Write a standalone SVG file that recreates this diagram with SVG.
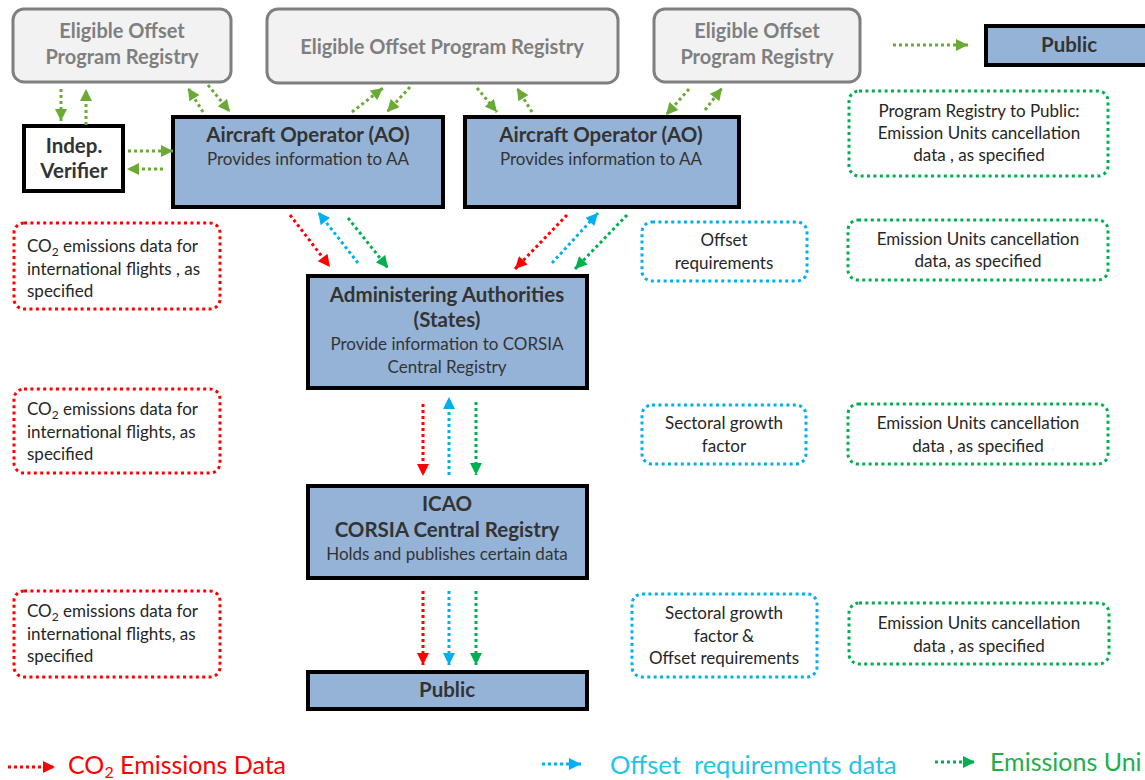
<svg xmlns="http://www.w3.org/2000/svg" width="1145" height="780" viewBox="0 0 1145 780">
<style>
text{font-family:Lato,"Open Sans",sans-serif;}
.reg{fill:#f2f2f2;stroke:#7f7f7f;stroke-width:3}
.regt{fill:#7f7f7f;font-weight:bold;font-size:20px;text-anchor:middle}
.blue{fill:#95b3d7;stroke:#000;stroke-width:4}
.bt{fill:#333;font-weight:bold;font-size:20.5px;text-anchor:middle}
.st{fill:#333;font-size:17px;text-anchor:middle}
.note{fill:none;stroke-width:3;stroke-dasharray:3 3.4}
.nr{stroke:#ff0000}.nb{stroke:#00b0f0}.ng{stroke:#00b050}
.nt{fill:#262626;font-size:17px}
.c{fill:none;stroke-width:3;stroke-dasharray:3 3}
.cr{stroke:#ff0000;marker-end:url(#ar)}
.cb{stroke:#00b0f0;marker-end:url(#ab)}
.cg{stroke:#00b050;marker-end:url(#ag)}
.co{stroke:#6aaa35;marker-end:url(#ao)}
</style>
<defs>
<marker id="ar" viewBox="0 0 10 10" refX="10" refY="5" markerWidth="13" markerHeight="12" markerUnits="userSpaceOnUse" orient="auto"><path d="M0,0L10,5L0,10z" fill="#ff0000"/></marker>
<marker id="ab" viewBox="0 0 10 10" refX="10" refY="5" markerWidth="13" markerHeight="12" markerUnits="userSpaceOnUse" orient="auto"><path d="M0,0L10,5L0,10z" fill="#00b0f0"/></marker>
<marker id="ag" viewBox="0 0 10 10" refX="10" refY="5" markerWidth="13" markerHeight="12" markerUnits="userSpaceOnUse" orient="auto"><path d="M0,0L10,5L0,10z" fill="#00b050"/></marker>
<marker id="ao" viewBox="0 0 10 10" refX="10" refY="5" markerWidth="13" markerHeight="12" markerUnits="userSpaceOnUse" orient="auto"><path d="M0,0L10,5L0,10z" fill="#6aaa35"/></marker>
</defs>
<rect width="1145" height="780" fill="#fff"/>

<g id="eopr1"><rect class="reg" x="13" y="9" width="218" height="73" rx="11"/><text class="regt" x="122" y="38">Eligible Offset</text><text class="regt" x="122" y="64">Program Registry</text></g>
<g id="eopr2"><rect class="reg" x="267" y="9" width="351" height="74" rx="11"/><text class="regt" x="442" y="54">Eligible Offset Program Registry</text></g>
<g id="eopr3"><rect class="reg" x="654" y="9" width="206" height="73" rx="11"/><text class="regt" x="757" y="38">Eligible Offset</text><text class="regt" x="757" y="64">Program Registry</text></g>
<g id="public-top"><rect class="blue" x="986" y="26" width="170" height="39" stroke-width="3"/><text class="bt" x="1069" y="52">Public</text></g>
<g id="note-pr-public"><rect class="note ng" x="849" y="91" width="259" height="85" rx="10"/><text class="nt" x="979" y="117" text-anchor="middle">Program Registry to Public:</text><text class="nt" x="979" y="139" text-anchor="middle">Emission Units cancellation</text><text class="nt" x="979" y="161" text-anchor="middle">data , as specified</text></g>
<g id="verifier"><rect x="24" y="126" width="99" height="65" fill="#fff" stroke="#000" stroke-width="4"/><text class="bt" x="74" y="153" fill="#262626">Indep.</text><text class="bt" x="74" y="178" fill="#262626">Verifier</text></g>
<g id="ao1"><rect class="blue" x="173" y="117" width="270" height="90"/><text class="bt" x="308" y="142">Aircraft Operator (AO)</text><text class="st" x="308" y="165">Provides information to AA</text></g>
<g id="ao2"><rect class="blue" x="465" y="117" width="274" height="90"/><text class="bt" x="601" y="142">Aircraft Operator (AO)</text><text class="st" x="601" y="165">Provides information to AA</text></g>
<g id="aa"><rect class="blue" x="308" y="276" width="279" height="112"/><text class="bt" x="447" y="302">Administering Authorities</text><text class="bt" x="447" y="327">(States)</text><text class="st" x="447" y="350">Provide information to CORSIA</text><text class="st" x="447" y="373">Central Registry</text></g>
<g id="icao"><rect class="blue" x="308" y="486" width="279" height="92"/><text class="bt" x="447" y="511">ICAO</text><text class="bt" x="447" y="537">CORSIA Central Registry</text><text class="st" x="447" y="560">Holds and publishes certain data</text></g>
<g id="public-bottom"><rect class="blue" x="308" y="672" width="279" height="37"/><text class="bt" x="447" y="697">Public</text></g>

<g id="note-co2-1"><rect class="note nr" x="14" y="223" width="206" height="86" rx="10"/><text class="nt" x="27" y="252">CO<tspan font-size="12" dy="4">2</tspan><tspan dy="-4"> emissions data for</tspan></text><text class="nt" x="27" y="275">international flights , as</text><text class="nt" x="27" y="297">specified</text></g>
<g id="note-co2-2"><rect class="note nr" x="14" y="389" width="206" height="84" rx="10"/><text class="nt" x="27" y="415">CO<tspan font-size="12" dy="4">2</tspan><tspan dy="-4"> emissions data for</tspan></text><text class="nt" x="27" y="438">international flights, as</text><text class="nt" x="27" y="460">specified</text></g>
<g id="note-co2-3"><rect class="note nr" x="14" y="591" width="206" height="86" rx="10"/><text class="nt" x="27" y="617">CO<tspan font-size="12" dy="4">2</tspan><tspan dy="-4"> emissions data for</tspan></text><text class="nt" x="27" y="640">international flights, as</text><text class="nt" x="27" y="662">specified</text></g>

<g id="note-offset"><rect class="note nb" x="642" y="222" width="165" height="59" rx="10"/><text class="nt" x="724" y="246" text-anchor="middle">Offset</text><text class="nt" x="724" y="269" text-anchor="middle">requirements</text></g>
<g id="note-sgf"><rect class="note nb" x="642" y="405" width="164" height="59" rx="10"/><text class="nt" x="724" y="429" text-anchor="middle">Sectoral growth</text><text class="nt" x="724" y="452" text-anchor="middle">factor</text></g>
<g id="note-sgf-offset"><rect class="note nb" x="632" y="594" width="185" height="83" rx="10"/><text class="nt" x="724" y="619" text-anchor="middle">Sectoral growth</text><text class="nt" x="724" y="642" text-anchor="middle">factor &amp;</text><text class="nt" x="724" y="664" text-anchor="middle">Offset requirements</text></g>

<g id="note-eu-1"><rect class="note ng" x="848" y="220" width="260" height="60" rx="10"/><text class="nt" x="978" y="245" text-anchor="middle">Emission Units cancellation</text><text class="nt" x="978" y="267" text-anchor="middle">data, as specified</text></g>
<g id="note-eu-2"><rect class="note ng" x="848" y="404" width="260" height="60" rx="10"/><text class="nt" x="978" y="429" text-anchor="middle">Emission Units cancellation</text><text class="nt" x="978" y="452" text-anchor="middle">data , as specified</text></g>
<g id="note-eu-3"><rect class="note ng" x="849" y="603" width="260" height="61" rx="10"/><text class="nt" x="979" y="629" text-anchor="middle">Emission Units cancellation</text><text class="nt" x="979" y="652" text-anchor="middle">data , as specified</text></g>

<g id="connectors">
<path class="c co" d="M61,89V121"/>
<path class="c co" d="M86,125V89"/>
<path class="c co" d="M128,151H173"/>
<path class="c co" d="M163,169H127"/>
<path class="c co" d="M203,112L188,88"/>
<path class="c co" d="M208,85L230,112"/>
<path class="c co" d="M352,112L383,88"/>
<path class="c co" d="M410,87L387,112"/>
<path class="c co" d="M477,88L497,112"/>
<path class="c co" d="M532,112L517,88"/>
<path class="c co" d="M689,89L666,115"/>
<path class="c co" d="M705,110L722,88"/>
<path class="c co" d="M893,45H968"/>

<path class="c cr" d="M290,215L330,267"/>
<path class="c cb" d="M358,263L318,212"/>
<path class="c cg" d="M348,218L388,268"/>
<path class="c cr" d="M567,215L515,269"/>
<path class="c cb" d="M552,263L598,213"/>
<path class="c cg" d="M627,215L575,269"/>

<path class="c cr" d="M423,404V476"/>
<path class="c cb" d="M449,475V397"/>
<path class="c cg" d="M476,402V475"/>

<path class="c cr" d="M423,591V665"/>
<path class="c cb" d="M449,591V665"/>
<path class="c cg" d="M476,591V665"/>

<path class="c cr" d="M8,767H55"/>
<path class="c cb" d="M542,764H581"/>
<path class="c cg" d="M935,762H975"/>
</g>
<g id="legend">
<text x="68" y="774" font-size="25" fill="#ff0000">CO<tspan font-size="16" dy="4">2</tspan><tspan dy="-4"> Emissions Data</tspan></text>
<text x="610" y="774" font-size="25.5" fill="#22c4e6" xml:space="preserve">Offset  requirements data</text>
<text x="990" y="771" font-size="25" fill="#1db04a">Emissions Uni</text>
</g>
</svg>
